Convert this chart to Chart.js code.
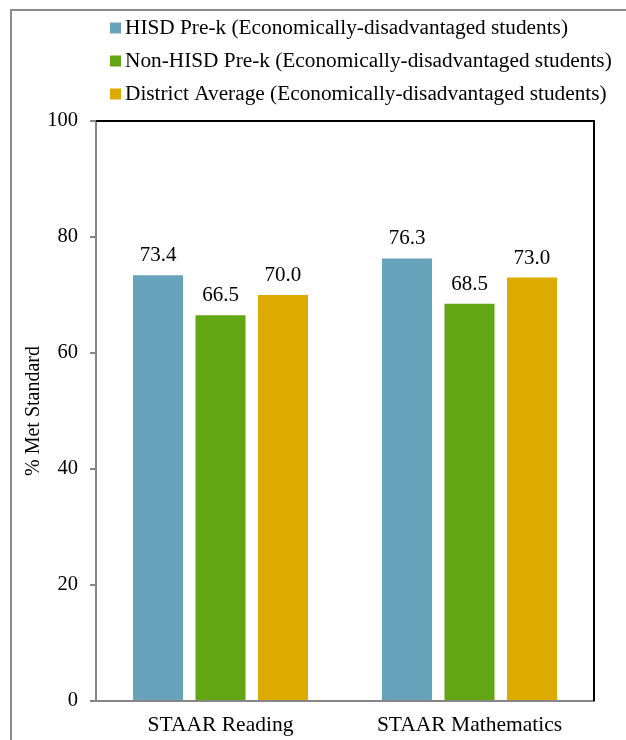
<!DOCTYPE html>
<html>
<head>
<meta charset="utf-8">
<script src="https://cdn.jsdelivr.net/npm/chart.js@4/dist/chart.umd.min.js"></script>
<style>
  html, body { margin: 0; padding: 0; background: #fff; }
  #wrap { width: 626px; height: 740px; position: relative; }
</style>
</head>
<body>
<div id="wrap"><canvas id="c" width="626" height="740"></canvas></div>
<script>
const categories = ["STAAR Reading", "STAAR Mathematics"];
const seriesNames = [
  "HISD Pre-k (Economically-disadvantaged students)",
  "Non-HISD Pre-k (Economically-disadvantaged students)",
  "District Average (Economically-disadvantaged students)"
];
const hisdPreK = [73.4, 76.3];
const nonHisdPreK = [66.5, 68.5];
const districtAverage = [70.0, 73.0];
const yTicks = [0, 20, 40, 60, 80, 100];
const yTitle = "% Met Standard";

const colors = ["#67A3BB", "#62A613", "#DDAA00"];
const FONT = "'Liberation Serif', 'Times New Roman', serif";

const frame = {
  id: 'frame',
  beforeDraw(chart) {
    const ctx = chart.ctx;
    ctx.save();
    ctx.strokeStyle = '#8a8a8a';
    ctx.lineWidth = 2;
    ctx.beginPath();
    ctx.moveTo(11, 740);
    ctx.lineTo(11, 10);
    ctx.lineTo(626, 10);
    ctx.stroke();
    ctx.restore();
  },
  afterDraw(chart) {
    const ctx = chart.ctx;
    const a = chart.chartArea;
    ctx.save();
    ctx.strokeStyle = '#000';
    ctx.lineWidth = 2;
    ctx.beginPath();
    ctx.moveTo(a.left, a.top);
    ctx.lineTo(a.right, a.top);
    ctx.lineTo(a.right, a.bottom);
    ctx.stroke();
    // data labels
    ctx.fillStyle = '#000';
    ctx.font = "21px " + FONT;
    ctx.textAlign = 'center';
    ctx.textBaseline = 'bottom';
    chart.data.datasets.forEach((ds, i) => {
      const meta = chart.getDatasetMeta(i);
      meta.data.forEach((bar, j) => {
        ctx.fillText(ds.data[j].toFixed(1), bar.x, bar.y - 9);
      });
    });
    // legend
    ctx.font = "21.3px " + FONT;
    ctx.textAlign = 'left';
    ctx.textBaseline = 'middle';
    chart.data.datasets.forEach((ds, i) => {
      const cy = 28 + i * 33;
      ctx.fillStyle = ds.backgroundColor;
      ctx.fillRect(110, cy - 5.5, 11, 11);
      ctx.fillStyle = '#000';
      ctx.fillText(ds.label, 125, cy);
    });
    ctx.restore();
  }
};

new Chart(document.getElementById('c'), {
  type: 'bar',
  data: {
    labels: categories,
    datasets: [
      { label: seriesNames[0], data: hisdPreK, backgroundColor: colors[0] },
      { label: seriesNames[1], data: nonHisdPreK, backgroundColor: colors[1] },
      { label: seriesNames[2], data: districtAverage, backgroundColor: colors[2] }
    ]
  },
  options: {
    responsive: false,
    animation: false,
    devicePixelRatio: 1,
    layout: { padding: { left: 0, right: 32, top: 121, bottom: 0 } },
    datasets: { bar: { categoryPercentage: 0.753, barPercentage: 0.8 } },
    plugins: { legend: { display: false }, tooltip: { enabled: false } },
    scales: {
      x: {
        grid: { display: false },
        border: { display: true, color: '#868686', width: 2 },
        ticks: { color: '#000', font: { family: FONT, size: 21.5 }, padding: 3 },
        afterFit(s) { s.height = 39; }
      },
      y: {
        min: 0, max: 100,
        afterBuildTicks(s) { s.ticks = yTicks.map(v => ({ value: v })); },
        grid: { drawOnChartArea: false, tickLength: 6, color: '#868686', lineWidth: 2 },
        border: { display: true, color: '#868686', width: 2 },
        ticks: { color: '#000', font: { family: FONT, size: 20.5 }, padding: 12 },
        title: { display: true, text: yTitle, color: '#000', font: { family: FONT, size: 20 }, padding: { top: 22, bottom: 0 } },
        afterFit(s) { s.width = 96; }
      }
    }
  },
  plugins: [frame]
});
</script>
</body>
</html>
